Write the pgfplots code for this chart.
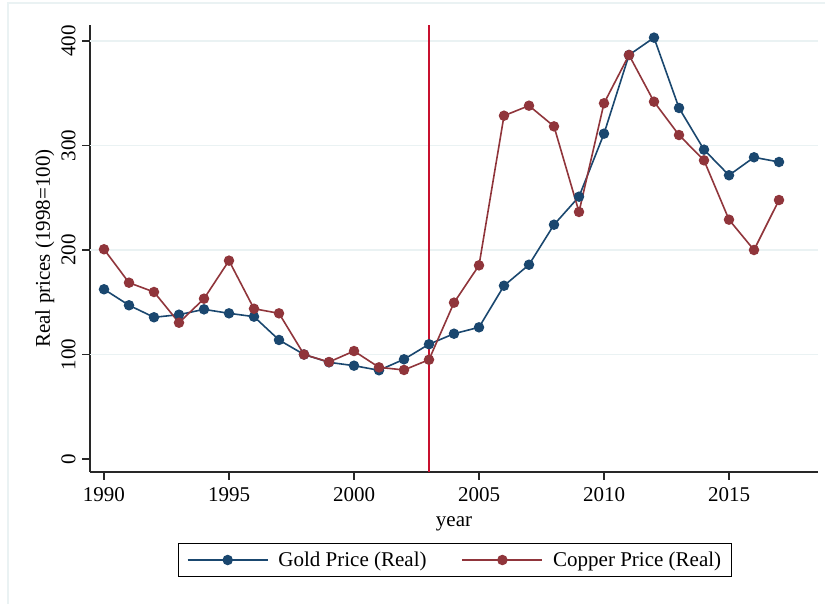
\documentclass[border=0pt]{standalone}
\usepackage{fontspec}
\setmainfont{Liberation Serif}
\usepackage{pgfplots}
\pgfplotsset{compat=1.18}
\definecolor{gold}{RGB}{26,71,111}
\definecolor{copper}{RGB}{144,53,59}
\definecolor{vline}{RGB}{200,16,46}
\definecolor{gridc}{RGB}{234,242,243}
\definecolor{axc}{RGB}{40,40,40}
\begin{document}
\begin{tikzpicture}
\useasboundingbox (0,0) rectangle (825pt,604pt);
\fill[white] (0,0) rectangle (825pt,604pt);
\draw[gridc, line width=1.5pt] (8pt,0) -- (8pt,601pt) -- (825pt,601pt);
\begin{axis}[
  at={(90pt,132pt)}, anchor=south west,
  scale only axis, width=728pt, height=447pt,
  xmin=1989.44, xmax=2018.56, ymin=-12.44, ymax=415.3,
  axis lines*=left,
  axis line style={axc, line width=1.2pt},
  tick style={axc, line width=1.2pt},
  tick align=outside, major tick length=8pt,
  xtick={1990,1995,...,2015},
  ytick={0,100,200,300,400},
  extra y ticks={100,200,300,400},
  extra y tick style={grid=major, major tick length=0pt, yticklabels={}},
  major grid style={gridc, line width=1.5pt},
  /pgf/number format/assume math mode=true,
  /pgf/number format/1000 sep={},
  tick label style={font=\fontsize{21}{25}\selectfont},
  yticklabel style={rotate=90, anchor=south},
  yticklabel shift=3pt,
  xticklabel shift=4pt,
  label style={font=\fontsize{21}{25}\selectfont},
  xlabel={year},
  ylabel={Real prices (1998=100)},
  xlabel style={yshift=-8pt},
  ylabel style={yshift=-14pt},
  legend columns=2,
  legend cell align=left,
  legend style={at={(0.5014,-0.1969)}, anchor=center, draw=black, line width=1pt,
    font=\fontsize{21}{25}\selectfont,
    /tikz/every even column/.append style={column sep=33pt},
    /tikz/every odd column/.append style={column sep=8pt},
    inner xsep=8pt, inner ysep=6pt},
  legend image code/.code={\draw[mark repeat=2,mark phase=2,#1] plot coordinates {(0pt,0pt) (40pt,0pt) (80pt,0pt)};},
  clip=false,
]
\addplot[vline, line width=1.5pt, forget plot] coordinates {(2003,-12.44) (2003,415.3)};
\addplot[gold, line width=1.6pt, mark=*, mark size=4.4pt, mark options={solid, fill=gold, draw=gold}] coordinates {
(1990,162.4) (1991,147.1) (1992,135.6) (1993,138.1) (1994,143.2) (1995,139.4)
(1996,136.2) (1997,113.9) (1998,100) (1999,92.5) (2000,89.3) (2001,84.9)
(2002,95.4) (2003,109.8) (2004,119.9) (2005,126.0) (2006,165.8) (2007,185.9)
(2008,224.2) (2009,251.0) (2010,311.3) (2011,386.6) (2012,403.2) (2013,335.9)
(2014,296.0) (2015,271.5) (2016,288.7) (2017,284.2)};
\addlegendentry{Gold Price (Real)}
\addplot[copper, line width=1.6pt, mark=*, mark size=4.4pt, mark options={solid, fill=copper, draw=copper}] coordinates {
(1990,200.7) (1991,168.7) (1992,159.8) (1993,130.4) (1994,153.4) (1995,189.8)
(1996,143.8) (1997,139.4) (1998,100) (1999,92.8) (2000,103.3) (2001,87.7)
(2002,85.2) (2003,95.0) (2004,149.6) (2005,185.3) (2006,328.5) (2007,338.1)
(2008,318.3) (2009,236.4) (2010,340.4) (2011,386.6) (2012,341.9) (2013,310.0)
(2014,285.8) (2015,229.0) (2016,200.0) (2017,247.8)};
\addlegendentry{Copper Price (Real)}
\end{axis}
\end{tikzpicture}
\end{document}
